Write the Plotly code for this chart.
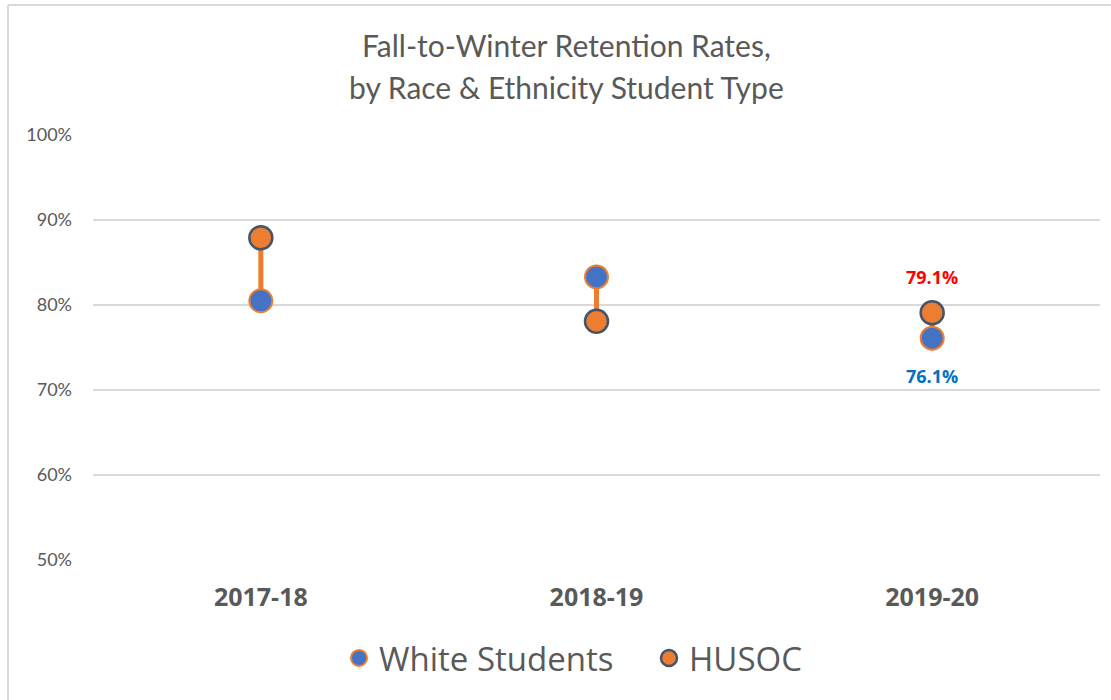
import plotly.graph_objects as go

years = ["2017-18", "2018-19", "2019-20"]
white = [80.5, 83.3, 76.1]
husoc = [87.9, 78.1, 79.1]
y_ticks = [50, 60, 70, 80, 90, 100]
title_lines = ["Fall-to-Winter Retention Rates,", "by Race & Ethnicity Student Type"]

W, H = 1111, 700
ML, MR, MT, MB = 93, 11, 135, 140
PW, PH = W - ML - MR, H - MT - MB

def px(x):
    return (x - ML) / PW

def py(y):
    return (H - MB - y) / PH

grey = "#595959"
orange = "#ED7D31"
blue = "#4472C4"

fig = go.Figure()

# connector lines
cx, cy = [], []
for yr, w, h in zip(years, white, husoc):
    cx += [yr, yr, None]
    cy += [w, h, None]
fig.add_trace(go.Scatter(x=cx, y=cy, mode="lines", line=dict(color=orange, width=5),
                         showlegend=False, hoverinfo="skip"))

fig.add_trace(go.Scatter(x=years, y=white, mode="markers", name="White Students",
                         marker=dict(size=23, color=blue, line=dict(color=orange, width=2))))
fig.add_trace(go.Scatter(x=years, y=husoc, mode="markers", name="HUSOC",
                         marker=dict(size=23, color=orange, line=dict(color="#44546A", width=2.5))))

# labels on last year
fig.add_annotation(x=years[-1], y=husoc[-1], text=f"<b>{husoc[-1]:.1f}%</b>", showarrow=False,
                   yshift=36, font=dict(color="#FF0000", size=18, family="Open Sans"))
fig.add_annotation(x=years[-1], y=white[-1], text=f"<b>{white[-1]:.1f}%</b>", showarrow=False,
                   yshift=-38, font=dict(color="#0070C0", size=18, family="Open Sans"))

# title as two lines
for txt, ty in zip(title_lines, [45, 87]):
    fig.add_annotation(xref="paper", yref="paper", x=px(566), y=py(ty), text=txt, showarrow=False,
                       xanchor="center", yanchor="middle",
                       font=dict(size=30, color=grey, family="Lato"))

# chart border lines
fig.add_shape(type="line", xref="paper", yref="paper", x0=px(8), x1=px(1111), y0=py(5), y1=py(5),
              line=dict(color="#D9D9D9", width=2))
fig.add_shape(type="line", xref="paper", yref="paper", x0=px(8), x1=px(8), y0=py(5), y1=py(700),
              line=dict(color="#D9D9D9", width=2))

fig.update_layout(
    width=W, height=H,
    margin=dict(l=ML, r=MR, t=MT, b=MB),
    paper_bgcolor="white", plot_bgcolor="white",
    font=dict(family="Lato", color=grey),
    xaxis=dict(type="category", range=[-0.5, 2.5], showgrid=False, zeroline=False,
               showline=False, ticks="", ticklabelstandoff=20,
               tickfont=dict(size=25, color=grey, family="Open Sans", weight="bold")),
    yaxis=dict(range=[50, 100], tickvals=y_ticks, ticktext=[f"{v}%" for v in y_ticks],
               showgrid=True, gridcolor="#D9D9D9", gridwidth=1.5, zeroline=False,
               showline=False, ticks="", ticklabelstandoff=20,
               tickfont=dict(size=18, color=grey, family="Lato")),
    legend=dict(orientation="h", x=px(339), xanchor="left", y=py(658), yanchor="middle",
                entrywidth=265, entrywidthmode="pixels",
                font=dict(size=33, color=grey, family="Open Sans"), itemsizing="trace"),
    showlegend=True,
)

fig.write_html("out.html", post_script="document.body.style.margin='0px';",
               config={"displayModeBar": False})
